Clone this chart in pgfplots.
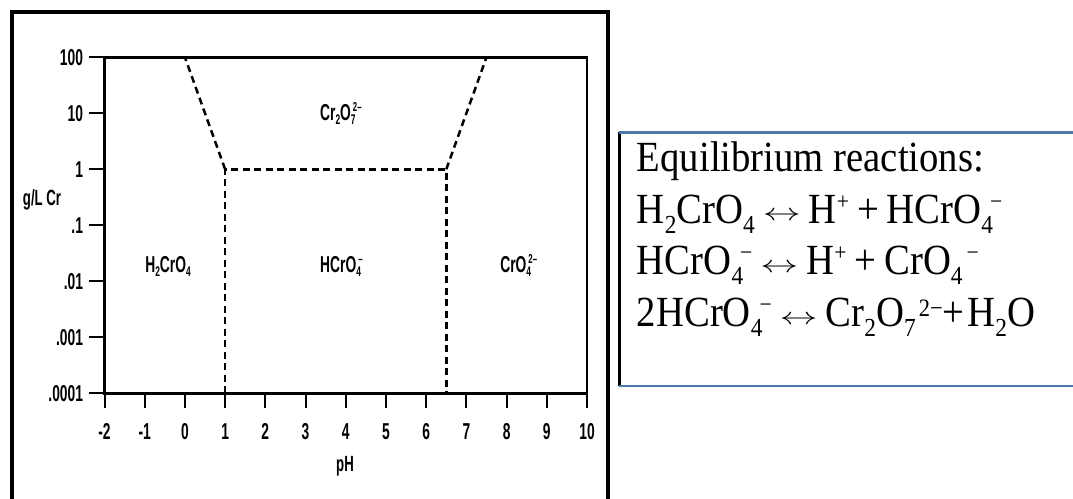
\documentclass[border=0pt]{standalone}
\usepackage{fontspec}
\usepackage{graphicx}
\usepackage{pgfplots}
\pgfplotsset{compat=1.18}
\setmainfont[FakeStretch=0.9]{Liberation Serif}
\newfontfamily\cf[FakeStretch=0.6]{Liberation Sans}
\newcommand\csub[1]{\raisebox{-4pt}{\fontsize{14}{14}\selectfont #1}}
\newcommand\csup[1]{\raisebox{9pt}{\fontsize{13}{13}\selectfont #1}}
\newcommand\css[2]{\rlap{\csub{#1}}\kern2pt\csup{#2}}
\newcommand\bsub[1]{\raisebox{-10pt}{\fontsize{26}{26}\selectfont #1}}
\newcommand\bsup[1]{\raisebox{14pt}{\fontsize{24}{24}\selectfont #1}}
\newcommand\bsupb[1]{\raisebox{10pt}{\fontsize{25}{25}\selectfont #1}}
\newcommand\bss[2]{\bsub{#1}\kern-3pt\bsup{#2}}
\newcommand\arr{\hspace{8pt}\raisebox{2.5pt}{\scalebox{3.8}[2.4]{\fontsize{10}{12}\selectfont$\leftrightarrow$}}\hspace{8pt}}
\newcommand\pl{\hspace{8pt}+\hspace{8pt}}
\begin{document}
\begin{tikzpicture}[x=1pt,y=1pt]
\useasboundingbox (0,0) rectangle (1073,498);
\fill[white] (0,0) rectangle (1073,498);
\draw[line width=4pt] (12,-20) -- (12,485.5) -- (608,485.5) -- (608,-20);
\begin{axis}[
 at={(104.5pt,104.7pt)}, anchor=south west,
 width=482.5pt, height=336pt, scale only axis,
 xmin=-2, xmax=10, ymode=log, ymin=1e-4, ymax=100,
 xtick={-2,-1,...,10}, xticklabels={-2,-1,0,1,2,3,4,5,6,7,8,9,10},
 ytick={1e-4,1e-3,0.01,0.1,1,10,100}, yticklabels={.0001,.001,.01,.1,1,10,100},
 yminorticks=false,
 tick align=outside, xtick pos=left, ytick pos=left,
 major tick length=15pt,
 every tick/.style={black, line width=2pt},
 axis line style={line width=2.5pt},
 tick label style={font=\cf\bfseries\fontsize{23}{23}\selectfont},
 xticklabel style={yshift=-12pt},
 yticklabel style={xshift=-3pt},
 clip=false,
]
\addplot[black, line width=2.5pt, dash pattern=on 7pt off 4.5pt] coordinates {(1,1e-4) (1,1) (6.5,1) (6.5,1e-4)};
\addplot[black, line width=2.5pt, dash pattern=on 7pt off 4.5pt] coordinates {(1,1) (0,100)};
\addplot[black, line width=2.5pt, dash pattern=on 7pt off 4.5pt] coordinates {(6.5,1) (7.5,100)};
\node[anchor=base west, font=\cf\bfseries\fontsize{23}{23}\selectfont, inner sep=0pt] at (axis cs:3.36,7.3) {Cr\csub{2}O\css{7}{2–}};
\node[anchor=base west, font=\cf\bfseries\fontsize{23}{23}\selectfont, inner sep=0pt] at (axis cs:-0.99,0.0141) {H\csub{2}CrO\csub{4}};
\node[anchor=base west, font=\cf\bfseries\fontsize{23}{23}\selectfont, inner sep=0pt] at (axis cs:3.36,0.0141) {HCrO\css{4}{–}};
\node[anchor=base west, font=\cf\bfseries\fontsize{23}{23}\selectfont, inner sep=0pt] at (axis cs:7.84,0.0141) {CrO\css{4}{2–}};
\end{axis}
\node[font=\cf\bfseries\fontsize{22}{22}\selectfont] at (42,298) {g/L Cr};
\node[font=\cf\bfseries\fontsize{22}{22}\selectfont] at (345,32) {pH};
% reactions box
\draw[line width=2.5pt, black] (619.3,112) -- (619.3,365.7);
\draw[line width=2.5pt, color={rgb,255:red,79;green,120;blue,170}] (619.3,365.7) -- (1090,365.7);
\draw[line width=2.5pt, color={rgb,255:red,79;green,120;blue,170}] (619.3,112) -- (1090,112);
\begin{scope}[every node/.style={anchor=base west, inner sep=0pt, font=\fontsize{43}{52}\selectfont}]
\node at (636.7,326.3) {Equilibrium reactions:};
\node at (636.7,274.7) {H\bsub{2}CrO\bsub{4}\arr H\bsup{+}\pl HCrO\bss{4}{−}};
\node at (636.7,223) {HCrO\bss{4}{−}\arr H\bsup{+}\pl CrO\bsub{4}\hspace{4pt}\bsup{−}};
\node at (636.7,171.3) {2HCrO\bss{4}{−}\arr Cr\bsub{2}O\bsub{7}\hspace{3pt}\bsupb{2−}+\hspace{3pt}H\bsub{2}O};
\end{scope}
\end{tikzpicture}
\end{document}
